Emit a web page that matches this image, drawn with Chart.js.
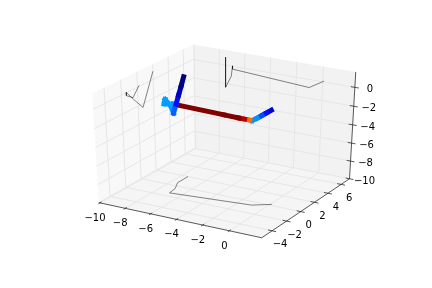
<!DOCTYPE html>
<html><head><meta charset="utf-8">
<script src="https://cdn.jsdelivr.net/npm/chart.js@4"></script>
<style>html,body{margin:0;padding:0;background:#fff}canvas{display:block}</style>
</head><body><canvas id="c" width="432" height="288"></canvas>
<script>
const xTicks=[-10,-8,-6,-4,-2,0];
const yTicks=[-4,-2,0,2,4,6];
const zTicks=[-10,-8,-6,-4,-2,0];
const xLim=[-10.1,2.4];
const yLim=[-5.4,7.3];
const zLim=[-10,1.6];
// wall shadows of the trajectory
const pathX=[-7.5,-7.5,-7.05,-6.95,-6.95,-1.0,0.1];
const pathY=[2.0,0.6,-0.5,-1.4,-1.4,-0.6,0.2];
const pathZ=[0.85,-2.4,-1.1,0.05,-0.3,-0.85,0.1];
// thick coloured trajectory
const trackX=[-7.7,-7.7,-7.7,-7.7,-7.7,-7.2,-7.1,-7.15,-6.6,-3,-2.0,-1.6,-1.25,-1.1,-0.81,-0.55,-0.3,-0.05];
const trackY=[2.0,1.65,1.3,0.95,0.6,-0.5,-1.4,-1.45,-1.2,-0.8,-0.65,-0.58,-0.52,-0.5,-0.34,-0.17,-0.01,0.15];
const trackZ=[0.85,0,-0.8,-1.6,-2.4,-1.1,0.05,-0.4,-0.4,-0.77,-0.89,-0.94,-0.98,-1.0,-0.74,-0.47,-0.21,0.05];
const trackHeat=[0,0.06,0.14,0.22,0.27,0.28,0.28,0.28,1,1,0.95,0.77,0.27,0.27,0.2,0.14,0.08,0.08];

const elev=30*Math.PI/180, azim=-60*Math.PI/180, dist=10;
const n=[Math.cos(azim)*Math.cos(elev),Math.sin(azim)*Math.cos(elev),Math.sin(elev)];
function cross(a,b){return [a[1]*b[2]-a[2]*b[1],a[2]*b[0]-a[0]*b[2],a[0]*b[1]-a[1]*b[0]];}
function norm(a){const l=Math.hypot(a[0],a[1],a[2]);return a.map(v=>v/l);}
const u=norm(cross([0,0,1],n)), v=cross(n,u);
function proj(x,y,z){
  const p=[(x-xLim[0])/(xLim[1]-xLim[0])-0.5,(y-yLim[0])/(yLim[1]-yLim[0])-0.5,(z-zLim[0])/(zLim[1]-zLim[0])-0.5];
  const dot=(a,b)=>a[0]*b[0]+a[1]*b[1]+a[2]*b[2];
  const w=dist-dot(p,n);
  return {x:dot(p,u)/w,y:dot(p,v)/w};
}
function jet(t){
  const c=f=>Math.round(255*Math.max(0,Math.min(1,f)));
  return `rgb(${c(1.5-Math.abs(4*t-3))},${c(1.5-Math.abs(4*t-2))},${c(1.5-Math.abs(4*t-1))})`;
}
const datasets=[];
function line(pts,color,width,extra){
  datasets.push(Object.assign({type:'scatter',showLine:true,data:pts.map(p=>proj(p[0],p[1],p[2])),
    borderColor:color,borderWidth:width,pointRadius:0,pointHoverRadius:0,clip:false,fill:false},extra||{}));
}
const [x0,x1]=xLim,[y0,y1]=yLim,[z0,z1]=zLim;
// panes
function pane(pts,c){line(pts.concat([pts[0]]),'rgba(0,0,0,0)',0,{fill:'shape',backgroundColor:c});}
pane([[x0,y0,z0],[x0,y1,z0],[x0,y1,z1],[x0,y0,z1]],'rgba(242,242,242,0.5)');
pane([[x0,y1,z0],[x1,y1,z0],[x1,y1,z1],[x0,y1,z1]],'rgba(230,230,230,0.5)');
pane([[x0,y0,z0],[x1,y0,z0],[x1,y1,z0],[x0,y1,z0]],'rgba(236,236,236,0.5)');
// grid
const gridC='rgb(230,230,230)';
xTicks.forEach(t=>line([[t,y0,z0],[t,y1,z0],[t,y1,z1]],gridC,1));
yTicks.forEach(t=>line([[x1,t,z0],[x0,t,z0],[x0,t,z1]],gridC,1));
zTicks.forEach(t=>line([[x0,y0,t],[x0,y1,t],[x1,y1,t]],gridC,1));
// axes
const axC='#222';
line([[x0,y0,z0],[x1,y0,z0]],axC,0.75);
line([[x1,y0,z0],[x1,y1,z0]],axC,0.75);
line([[x1,y1,z0],[x1,y1,z1]],axC,0.75);
xTicks.forEach(t=>line([[t,y0+0.2,z0],[t,y0-0.2,z0]],axC,0.75));
yTicks.forEach(t=>line([[x1-0.3,t,z0],[x1+0.3,t,z0]],axC,0.75));
zTicks.forEach(t=>line([[x1-0.3,y1,t],[x1+0.3,y1,t]],axC,0.75));
// shadows
const thin='rgba(0,0,0,0.8)';
line(pathX.map((a,i)=>[a,pathY[i],z0]),thin,0.6);
line(pathX.map((a,i)=>[a,y1,pathZ[i]]),thin,0.6);
line(pathX.map((a,i)=>[x0,pathY[i],pathZ[i]]),thin,0.6);
// thick track, last segment first so the blue start lies on top
for(let i=trackX.length-2;i>=0;i--){
  line([[trackX[i],trackY[i],trackZ[i]],[trackX[i+1],trackY[i+1],trackZ[i+1]]],jet(trackHeat[i]),5,{borderCapStyle:'square'});
}
datasets.reverse(); // Chart.js paints the first dataset last
const labelPlugin={id:'tickText',afterDatasetsDraw(chart){
  const c=chart.ctx,sx=chart.scales.x,sy=chart.scales.y;
  c.save();c.font='10px "DejaVu Sans"';c.fillStyle='#000';c.textAlign='center';c.textBaseline='middle';
  const put=(p,dx,dy,t)=>{const q=proj(p[0],p[1],p[2]);c.fillText(String(t).replace('-','\u2212'),sx.getPixelForValue(q.x)+dx,sy.getPixelForValue(q.y)+dy);};
  xTicks.forEach(t=>put([t,y0,z0],-5,15.5,t));
  yTicks.forEach(t=>put([x1,t,z0],8,14,t));
  zTicks.forEach(t=>put([x1,y1,t],15,2.5,t));
  c.restore();
}};
new Chart(document.getElementById('c'),{
  type:'scatter',
  data:{datasets},
  options:{responsive:false,animation:false,devicePixelRatio:1,
    layout:{padding:{left:54,right:43.2,top:28.8,bottom:28.8}},
    plugins:{legend:{display:false},tooltip:{enabled:false}},
    scales:{x:{type:'linear',display:false,min:-0.0915,max:0.0865},y:{type:'linear',display:false,min:-0.0974,max:0.0876}}},
  plugins:[labelPlugin]
});
</script></body></html>
